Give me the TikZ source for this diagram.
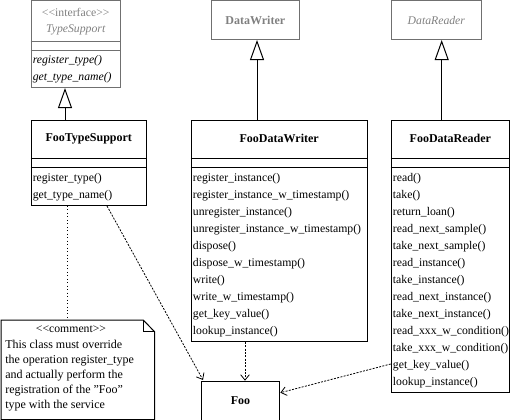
\documentclass[tikz,border=0pt]{standalone}
\usepackage{fontspec}
\setmainfont{Liberation Serif}
\usetikzlibrary{arrows.meta,calc}
\definecolor{ifcline}{HTML}{707070}
\definecolor{ifctext}{HTML}{808080}
\newcommand{\lt}{\symbol{60}}
\newcommand{\gt}{\symbol{62}}
\newcommand{\dq}{\symbol{34}}
\begin{document}
\begin{tikzpicture}[x=0.75pt,y=-0.75pt,
  clsbox/.style={draw=black,line width=0.75pt,anchor=north west,inner sep=0pt},
  ifcbox/.style={draw=ifcline,line width=0.75pt,anchor=north west,inner sep=0pt},
  ctitle/.style={font=\fontsize{9}{11}\selectfont\bfseries,inner sep=0pt},
  meth/.style={anchor=west,inner sep=0pt,font=\fontsize{8.8}{11}\selectfont},
  gen/.style={draw=black,line width=0.75pt,-{Triangle[open,length=15pt,width=10.5pt,fill=white]}},
  dep/.style={draw=black,line width=0.6pt,dash pattern=on 1.5pt off 1pt,-{Straight Barb[length=4pt,width=6.5pt]}},
  ndot/.style={draw=black,line width=0.6pt,dotted}
]
\useasboundingbox (0,0) rectangle (510,420);

% ---------- TypeSupport (interface) ----------
\node[ifcbox,minimum width=67.1pt,minimum height=64.9pt] (ts) at (30.5,0.5) {};
\draw[ifcline,line width=0.75pt] ($(ts.north west)+(0,41.5)$) -- ($(ts.north east)+(0,41.5)$);
\draw[ifcline,line width=0.75pt] ($(ts.north west)+(0,50.5)$) -- ($(ts.north east)+(0,50.5)$);
\node[inner sep=0pt,text=ifctext,font=\fontsize{8.8}{11}\selectfont] (tsst) at ($(ts.north)+(0,12)$) {\lt\lt interface\gt\gt};
\node[inner sep=0pt,text=ifctext,font=\fontsize{8.8}{11}\selectfont\itshape] (tsname) at ($(ts.north)+(0,29)$) {TypeSupport};
\node[meth,font=\fontsize{8.8}{11}\selectfont\itshape] (tsm0) at ($(ts.north west)+(2,60.5)$) {register\_type()};
\node[meth,font=\fontsize{8.8}{11}\selectfont\itshape] (tsm1) at ($(ts.north west)+(2,77.5)$) {get\_type\_name()};

% ---------- DataWriter ----------
\node[ifcbox,minimum width=66.2pt,minimum height=28.9pt] (dw) at (210.7,0.5) {};
\node[ctitle,text=ifctext] (dwname) at (dw.center) {DataWriter};

% ---------- DataReader ----------
\node[ifcbox,minimum width=67.7pt,minimum height=28.9pt] (dr) at (390.7,0.5) {};
\node[inner sep=0pt,text=ifctext,font=\fontsize{8.8}{11}\selectfont\itshape] (drname) at (dr.center) {DataReader};

% ---------- FooTypeSupport ----------
\node[clsbox,minimum width=86.6pt,minimum height=63.75pt] (fts) at (30.5,120) {};
\draw[line width=0.75pt] ($(fts.north west)+(0,39)$) -- ($(fts.north east)+(0,39)$);
\draw[line width=0.75pt] ($(fts.north west)+(0,48)$) -- ($(fts.north east)+(0,48)$);
\node[ctitle] (ftsname) at ($(fts.north)+(0,18.5)$) {FooTypeSupport};
\node[meth] (ftsm0) at ($(fts.north west)+(2,58.5)$) {register\_type()};
\node[meth] (ftsm1) at ($(fts.north west)+(2,75.5)$) {get\_type\_name()};

% ---------- FooDataWriter ----------
\node[clsbox,minimum width=132pt,minimum height=165.75pt] (fdw) at (190.7,120) {};
\draw[line width=0.75pt] ($(fdw.north west)+(0,39)$) -- ($(fdw.north east)+(0,39)$);
\draw[line width=0.75pt] ($(fdw.north west)+(0,48)$) -- ($(fdw.north east)+(0,48)$);
\node[ctitle] (fdwname) at ($(fdw.north)+(0,18.5)$) {FooDataWriter};
\foreach \m [count=\i from 0] in {register\_instance(),register\_instance\_w\_timestamp(),unregister\_instance(),unregister\_instance\_w\_timestamp(),dispose(),dispose\_w\_timestamp(),write(),write\_w\_timestamp(),get\_key\_value(),lookup\_instance()}
  \node[meth] (fdwm\i) at ($(fdw.north west)+(2,58.5+17*\i)$) {\m};

% ---------- FooDataReader ----------
\node[clsbox,minimum width=88.7pt,minimum height=203.8pt] (fdr) at (390.7,120) {};
\draw[line width=0.75pt] ($(fdr.north west)+(0,39)$) -- ($(fdr.north east)+(0,39)$);
\draw[line width=0.75pt] ($(fdr.north west)+(0,48)$) -- ($(fdr.north east)+(0,48)$);
\node[ctitle] (fdrname) at ($(fdr.north)+(0,18.5)$) {FooDataReader};
\foreach \m [count=\i from 0] in {read(),take(),return\_loan(),read\_next\_sample(),take\_next\_sample(),read\_instance(),take\_instance(),read\_next\_instance(),take\_next\_instance(),read\_xxx\_w\_condition(),take\_xxx\_w\_condition(),get\_key\_value(),lookup\_instance()}
  \node[meth] (fdrm\i) at ($(fdr.north west)+(2,58.5+17*\i)$) {\m};

% ---------- Foo ----------
\node[clsbox,minimum width=59pt,minimum height=29.1pt] (foo) at (200.7,380.7) {};
\node[ctitle] (fooname) at (foo.center) {Foo};

% ---------- Comment note ----------
\node[anchor=north west,inner sep=0pt,minimum width=114.75pt,minimum height=74.25pt] (note) at (1,320) {};
\draw[line width=0.75pt,fill=white] (note.north west) -- ($(note.north east)+(-11.3,0)$) -- ($(note.north east)+(0,11.7)$) -- (note.south east) -- (note.south west) -- cycle;
\draw[line width=0.6pt] ($(note.north east)+(-11.3,0)$) -- ($(note.north east)+(-11.3,11.7)$) -- ($(note.north east)+(0,11.7)$);
\node[inner sep=0pt,font=\fontsize{8.8}{11}\selectfont] (notest) at (71,329) {\lt\lt comment\gt\gt};
\node[anchor=north west,inner sep=0pt,align=left,font=\fontsize{9}{11.25}\selectfont] (notetext) at (5,339.5)
  {This class must override\\the operation register\_type\\and actually perform the\\registration of the \dq Foo\dq\\type with the service};

% ---------- Generalizations ----------
\coordinate (g1) at (65,0);
\coordinate (g2) at (257,0);
\coordinate (g3) at (441.7,0);
\draw[gen] (g1 |- fts.north) -- (g1 |- ts.south);
\draw[gen] (g2 |- fdw.north) -- (g2 |- dw.south);
\draw[gen] (g3 |- fdr.north) -- (g3 |- dr.south);

% ---------- Dependencies ----------
\coordinate (d1s) at (107,205);
\coordinate (d1e) at (203,380);
\draw[dep] (d1s |- fts.south) -- (d1e);
\coordinate (d2) at (245,0);
\draw[dep] (d2 |- fdw.south) -- (d2 |- foo.north);
\coordinate (d3s) at (0,364);
\coordinate (d3e) at (0,392.7);
\draw[dep] (d3s -| fdr.west) -- (d3e -| foo.east);

% ---------- Note link ----------
\coordinate (nl) at (67,0);
\draw[ndot] (nl |- fts.south) -- (nl |- note.north);
\end{tikzpicture}
\end{document}
